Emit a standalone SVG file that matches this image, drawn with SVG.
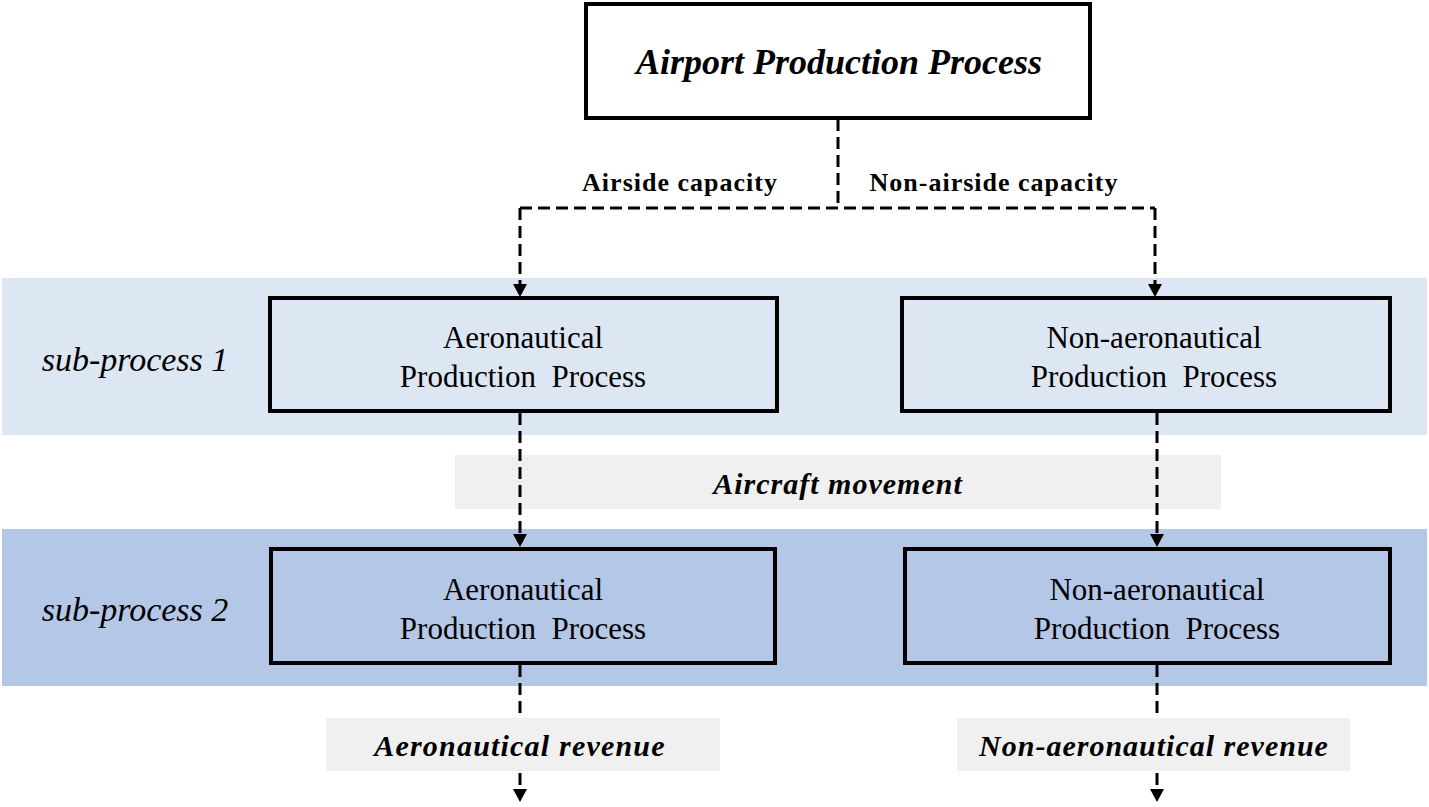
<svg xmlns="http://www.w3.org/2000/svg" width="1429" height="807" viewBox="0 0 1429 807">
<style>
.box{fill:none;stroke:#000;stroke-width:4}
.dash{fill:none;stroke:#000;stroke-width:3;stroke-dasharray:12 6}
.t{font-family:"Liberation Serif",serif;fill:#000;text-anchor:middle}
.bi{font-weight:bold;font-style:italic}
.lbl{fill:#f0f0f0}
.sub{font-size:34px;font-style:italic}
.nd{font-size:31px}
.cap{font-size:26px;font-weight:bold;letter-spacing:1px}
</style>
<rect width="1429" height="807" fill="#fff"/>
<g id="band1"><rect x="2" y="278" width="1425" height="157" fill="#dde6f3"/>
<text class="t sub" x="135" y="371">sub-process 1</text></g>
<g id="band2"><rect x="2" y="529" width="1425" height="157" fill="#b4c7e7"/>
<text class="t sub" x="135" y="621">sub-process 2</text></g>
<g id="aircraft"><rect class="lbl" x="455" y="455" width="766" height="54"/>
<text class="t bi" x="838" y="494" font-size="30" letter-spacing="1">Aircraft movement</text></g>
<g id="connectors">
<path class="dash" d="M838,119 V208 M520,208 H1155"/>
<path class="dash" d="M520,208 V285"/>
<path class="dash" d="M1155,208 V285"/>
<path d="M513,284 L527,284 L520,297 Z M1148,284 L1162,284 L1155,297 Z"/>
<path class="dash" d="M520,413 V535"/>
<path class="dash" d="M1157,413 V535"/>
<path d="M513,534 L527,534 L520,547 Z M1150,534 L1164,534 L1157,547 Z"/>
<path class="dash" d="M520,665 V790"/>
<path class="dash" d="M1157,665 V790"/>
<path d="M513,789 L527,789 L520,802 Z M1150,789 L1164,789 L1157,802 Z"/>
<text class="t cap" x="680" y="191">Airside capacity</text>
<text class="t cap" x="994" y="191">Non-airside capacity</text>
</g>
<g id="aerorev"><rect class="lbl" x="326" y="718" width="394" height="53"/>
<text class="t bi" x="520" y="756" font-size="30" letter-spacing="1.2">Aeronautical revenue</text></g>
<g id="nonaerorev"><rect class="lbl" x="957" y="718" width="393" height="53"/>
<text class="t bi" x="1154" y="756" font-size="30" letter-spacing="1">Non-aeronautical revenue</text></g>
<g id="top"><rect class="box" x="586" y="4" width="504" height="114" fill="#fff"/>
<text class="t bi" x="839" y="74" font-size="36">Airport Production Process</text></g>
<g id="aero1"><rect class="box" x="270" y="298" width="507" height="113"/>
<text class="t nd" x="523" y="348">Aeronautical</text>
<text class="t nd" x="523" y="387" xml:space="preserve">Production  Process</text></g>
<g id="nonaero1"><rect class="box" x="902" y="298" width="488" height="113"/>
<text class="t nd" x="1154" y="348">Non-aeronautical</text>
<text class="t nd" x="1154" y="387" xml:space="preserve">Production  Process</text></g>
<g id="aero2"><rect class="box" x="271" y="549" width="504" height="114"/>
<text class="t nd" x="523" y="600">Aeronautical</text>
<text class="t nd" x="523" y="639" xml:space="preserve">Production  Process</text></g>
<g id="nonaero2"><rect class="box" x="905" y="549" width="485" height="114"/>
<text class="t nd" x="1157" y="600">Non-aeronautical</text>
<text class="t nd" x="1157" y="639" xml:space="preserve">Production  Process</text></g>
</svg>
